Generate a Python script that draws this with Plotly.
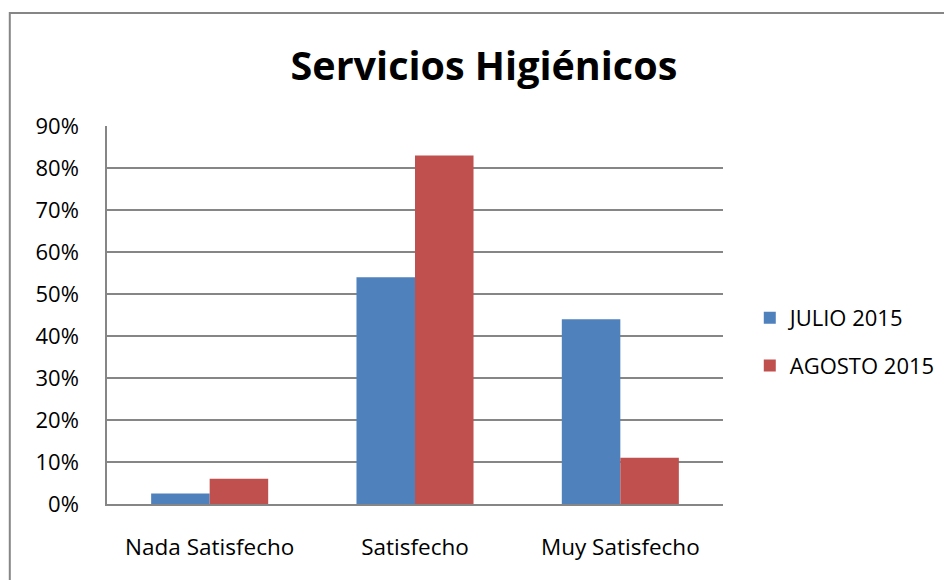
import plotly.graph_objects as go

categories = ["Nada Satisfecho", "Satisfecho", "Muy Satisfecho"]
julio = [0.025, 0.54, 0.44]
agosto = [0.06, 0.83, 0.11]
series_names = ["JULIO 2015", "AGOSTO 2015"]
tick_vals = [0, 0.1, 0.2, 0.3, 0.4, 0.5, 0.6, 0.7, 0.8, 0.9]
tick_text = ["0%", "10%", "20%", "30%", "40%", "50%", "60%", "70%", "80%", "90%"]

FONT = "Open Sans"
fig = go.Figure()
fig.add_trace(go.Bar(x=categories, y=julio, name=series_names[0],
                     marker=dict(color="#4F81BD", line=dict(width=0)),
                     legendgroup="a"))
fig.add_trace(go.Bar(x=categories, y=agosto, name=series_names[1],
                     marker=dict(color="#C0504D", line=dict(width=0)),
                     legendgroup="b"))

# page body has an 8px margin; figure coordinates are page - 8
W, H = 944, 572
L, R, T, B = 99, 224, 118, 76
pw, ph = W - L - R, H - T - B

fig.update_layout(
    width=W, height=H,
    margin=dict(l=L, r=R, t=T, b=B),
    paper_bgcolor="white", plot_bgcolor="white",
    barmode="group", bargap=0.43, bargroupgap=0,
    font=dict(family=FONT, size=22, color="black"),
    title=dict(text="<b>Servicios Higiénicos</b>", x=(479 - L) / pw, xref="paper",
               xanchor="center", y=1 - 58 / H, yanchor="middle",
               font=dict(family=FONT, size=39.5, color="black")),
    xaxis=dict(showgrid=False, showline=True, linecolor="#868686", linewidth=2,
               ticks="", tickfont=dict(size=22.5), ticklabelstandoff=22),
    yaxis=dict(range=[0, 0.9], tickvals=tick_vals, ticktext=tick_text,
               showgrid=True, gridcolor="#868686", gridwidth=1.5,
               showline=True, linecolor="#868686", linewidth=1.5,
               ticks="", ticklabelstandoff=22, zeroline=False,
               tickfont=dict(size=22)),
    legend=dict(x=(747 - L) / pw, xanchor="left", y=1 - (289 - T) / ph, yanchor="top",
                traceorder="grouped", tracegroupgap=16, font=dict(size=22),
                itemwidth=30, bgcolor="rgba(0,0,0,0)"),
    shapes=[dict(type="rect", xref="paper", yref="paper",
                 x0=(1 - L) / pw, x1=2.0, y0=-1.0, y1=1 + (T - 5) / ph,
                 line=dict(color="#868686", width=2), fillcolor="rgba(0,0,0,0)",
                 layer="below")],
)

fig.write_html("out.html")
